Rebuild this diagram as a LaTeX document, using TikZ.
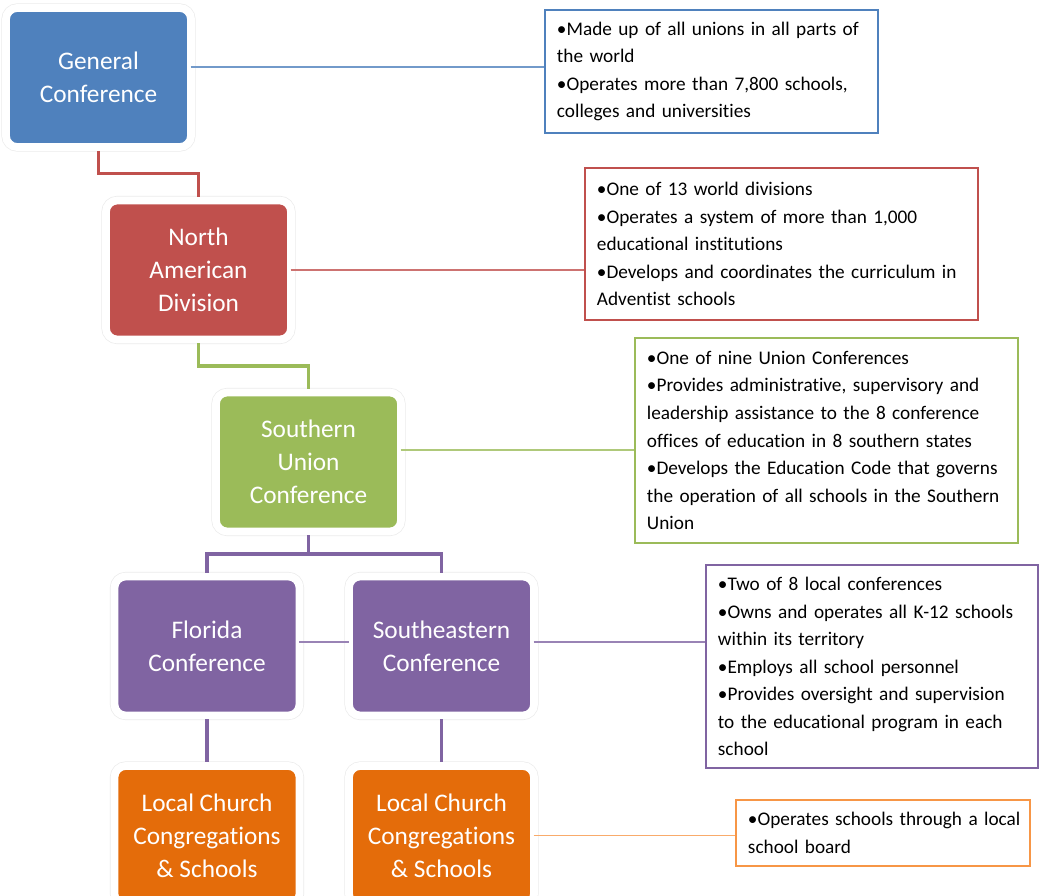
\documentclass[tikz,border=0pt]{standalone}
\usepackage{fontspec}
\setmainfont{Carlito}[Ligatures={NoCommon}]
\usetikzlibrary{calc}

\definecolor{gcblue}{HTML}{4F81BD}
\definecolor{nadred}{HTML}{C0504D}
\definecolor{sucgreen}{HTML}{9BBB59}
\definecolor{confpurple}{HTML}{8064A2}
\definecolor{lcorange}{HTML}{E46C0A}
\definecolor{infoorange}{HTML}{F79646}

\begin{document}
\begin{tikzpicture}[x=0.025cm,y=-0.025cm,
    unit/.style={fill=#1, draw=white, line width=5.5pt, rounded corners=8pt,
      text=white, align=center, font=\fontsize{18}{23.5}\selectfont,
      minimum width=4.625cm, minimum height=3.475cm, inner sep=0pt,
      preaction={draw=black!8, line width=6.5pt}},
    info/.style={draw=#1, line width=2pt, fill=white, align=left,
      font=\fontsize{13.7}{19.6}\selectfont, inner xsep=0.15cm, inner ysep=0pt,
      execute at begin node={\leftskip=0.15cm\hyphenpenalty=10000}},
    tie/.style={draw=#1, line width=2.2pt},
    thin/.style={draw=#1!80!white, line width=1pt}]

    \useasboundingbox (0,0) rectangle (1041,896);
    \clip (0,0) rectangle (1041,896);

    % levels of the organisation
    \node[unit=gcblue] (gc) at (98.5,77.5) {General\\Conference};
    \node[unit=nadred] (nad) at (198.5,270) {North\\American\\Division};
    \node[unit=sucgreen] (suc) at (308.5,462) {Southern\\Union\\Conference};
    \node[unit=confpurple] (fl) at (207,646) {Florida\\Conference};
    \node[unit=confpurple] (se) at (441.5,646) {Southeastern\\Conference};
    \node[unit=lcorange] (lcone) at (207,835.5) {Local Church\\Congregations\\\& Schools};
    \node[unit=lcorange] (lctwo) at (441.5,835.5) {Local Church\\Congregations\\\& Schools};

    % notes
    \node[info=gcblue, text width=8.025cm, minimum height=3.075cm] (gcinfo) at (711.5,71.5)
      {•Made up of all unions in all parts of\\the world\\•Operates more than 7,800 schools,\\colleges and universities};
    \node[info=nadred, text width=9.525cm, minimum height=3.8cm] (nadinfo) at (781.5,244)
      {•One of 13 world divisions\\•Operates a system of more than 1,000\\educational institutions\\•Develops and coordinates the curriculum in\\Adventist schools};
    \node[info=sucgreen, text width=9.275cm, minimum height=5.125cm] (sucinfo) at (826.5,440.5)
      {•One of nine Union Conferences\\•Provides administrative, supervisory and\\leadership assistance to the 8 conference\\offices of education in 8 southern states\\•Develops the Education Code that governs\\the operation of all schools in the Southern\\Union};
    \node[info=confpurple, text width=8cm, minimum height=5.075cm] (seinfo) at (872,666.5)
      {•Two of 8 local conferences\\•Owns and operates all K-12 schools\\within its territory\\•Employs all school personnel\\•Provides oversight and supervision\\to the educational program in each\\school};
    \node[info=infoorange, text width=7.05cm, minimum height=1.65cm] (lcinfo) at (883,833)
      {•Operates schools through a local\\school board};

    % hierarchy
    \draw[tie=nadred] (gc.south) |- ($(gc.south)!0.5!(nad.north)$) -| (nad.north);
    \draw[tie=sucgreen] (nad.south) |- ($(nad.south)!0.5!(suc.north)$) -| (suc.north);
    \coordinate (fork) at ($(suc.south)!0.5!(suc.south |- fl.north)$);
    \draw[tie=confpurple] (suc.south) -- (fork) (fl.north) |- (fork) -| (se.north);
    \draw[tie=confpurple] (fl.south) -- (lcone.north);
    \draw[tie=confpurple] (se.south) -- (lctwo.north);

    % links to notes
    \draw[thin=gcblue] ([xshift=-3pt,yshift=7.5pt]gc.east) -- ([yshift=7.5pt]gc.east -| gcinfo.west);
    \draw[thin=nadred] ([xshift=-3pt]nad.east) -- (nad.east -| nadinfo.west);
    \draw[thin=sucgreen] ([xshift=-3pt,yshift=8.5pt]suc.east) -- ([yshift=8.5pt]suc.east -| sucinfo.west);
    \draw[thin=confpurple] ([xshift=-3pt,yshift=2.8pt]fl.east) -- ([xshift=3pt,yshift=2.8pt]se.west);
    \draw[thin=confpurple] ([xshift=-3pt,yshift=2.8pt]se.east) -- ([yshift=2.8pt]se.east -| seinfo.west);
    \draw[thin=infoorange] ([xshift=-3pt]lctwo.east) -- (lctwo.east -| lcinfo.west);
  \end{tikzpicture}
\end{document}
